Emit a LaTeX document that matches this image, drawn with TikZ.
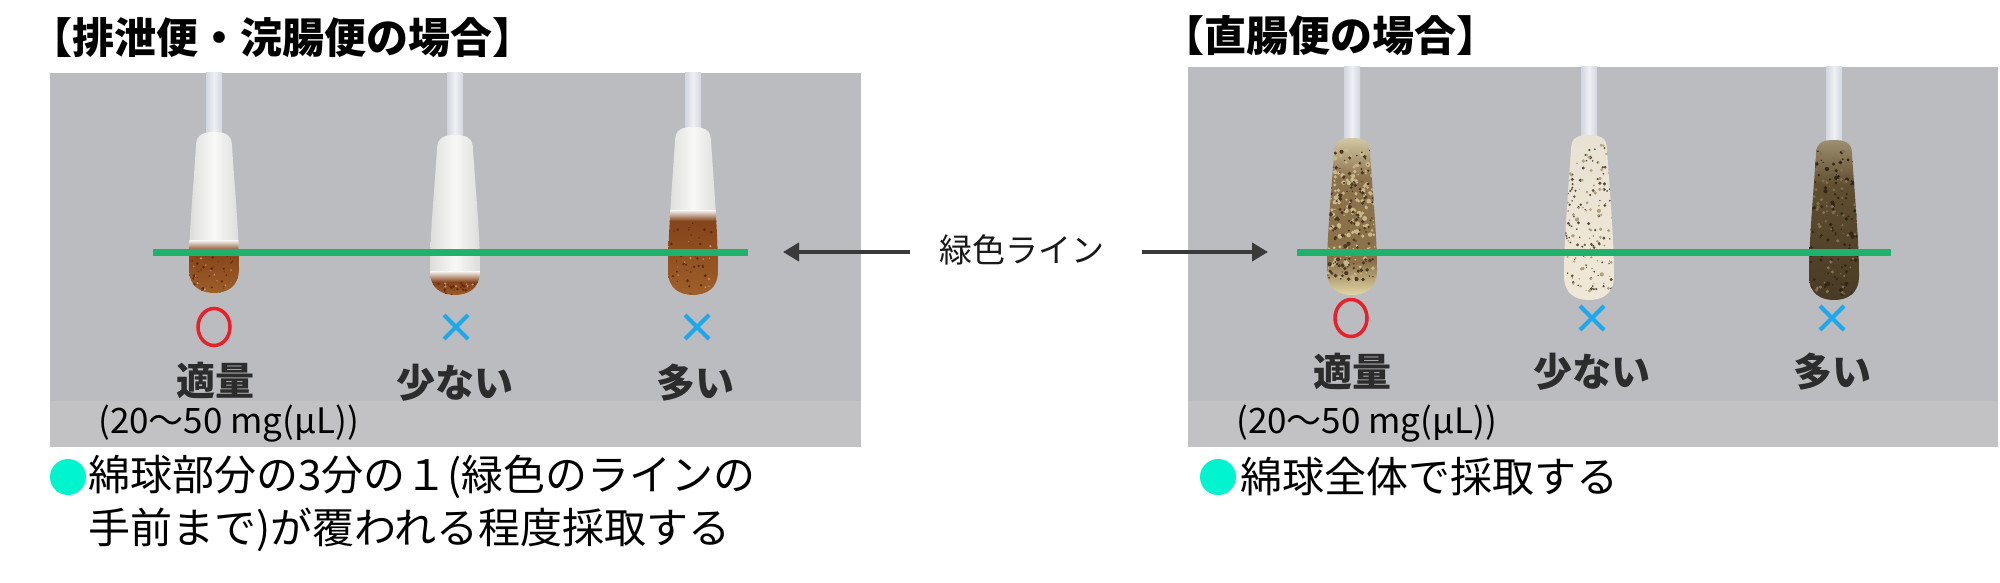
\documentclass[tikz,border=0pt]{standalone}
\usepackage{fontspec}
\newfontfamily\jp{Noto Sans CJK JP}
\usetikzlibrary{arrows.meta}
\definecolor{panel}{HTML}{BBBCC0}
\definecolor{band}{HTML}{C2C2C4}
\definecolor{gline}{HTML}{20B26C}
\definecolor{okred}{HTML}{E8202A}
\definecolor{ngblue}{HTML}{1EA8EC}
\definecolor{mint}{HTML}{00F5CF}
\definecolor{stickhi}{HTML}{EEF0F4}
\definecolor{stickdark}{HTML}{D2D6DE}
\definecolor{cotton}{HTML}{F8F8F6}
\definecolor{cottonedge}{HTML}{DCDCDA}
\definecolor{poo}{HTML}{85441A}
\definecolor{poolight}{HTML}{A0602A}
\definecolor{poodark}{HTML}{642A0E}
\definecolor{labelgray}{HTML}{2C2C2C}
\definecolor{arrowgray}{HTML}{3A3A3A}
% right-panel colours
\definecolor{raTop}{RGB}{214,204,170}
\definecolor{raMid}{RGB}{140,114,74}
\definecolor{raBot}{RGB}{232,222,172}
\definecolor{raLight}{RGB}{200,184,140}
\definecolor{raDark}{RGB}{74,56,32}
\definecolor{rbTop}{RGB}{232,226,212}
\definecolor{rbMid}{RGB}{216,204,176}
\definecolor{rbBot}{RGB}{240,232,214}
\definecolor{rbDark}{RGB}{90,76,54}
\definecolor{rbMed}{RGB}{176,160,124}
\definecolor{rcTop}{RGB}{160,146,116}
\definecolor{rcMid}{RGB}{96,78,48}
\definecolor{rcBot}{RGB}{72,58,36}
\definecolor{rcDark}{RGB}{50,38,22}
\definecolor{rcLight}{RGB}{130,112,80}
\tikzset{
  titletext/.style={font=\jp\bfseries\fontsize{42}{50}\selectfont, inner sep=0pt, anchor=west},
  lbl/.style={font=\jp\bfseries\fontsize{39}{46}\selectfont, text=labelgray, inner sep=0pt},
  body/.style={font=\jp\fontsize{42}{53}\selectfont, inner sep=0pt, anchor=west, align=left},
  amount/.style={font=\jp\fontsize{35}{40}\selectfont, inner sep=0pt, anchor=west},
  note/.style={font=\jp\fontsize{33}{40}\selectfont, inner sep=0pt, text=black!90},
  greenline/.style={line width=7pt, draw=gline},
  okmark/.style={draw=okred, line width=3.5pt},
  ngmark/.style={draw=ngblue, line width=4pt},
  pointer/.style={line width=4pt, draw=arrowgray, -{Triangle[length=16pt,width=18pt]}},
}
% head outline: cx, top, bottom
\newcommand\headpath[3]{({#1-18},{#2+14}) .. controls ({#1-18},{#2+2}) and ({#1-10},{#2}) .. ({#1},{#2}) .. controls ({#1+10},{#2}) and ({#1+18},{#2+2}) .. ({#1+18},{#2+14}) .. controls ({#1+21},{#2+60}) and ({#1+25},{#3-60}) .. ({#1+25},{#3-24}) .. controls ({#1+25},{#3-6}) and ({#1+13},{#3}) .. ({#1},{#3}) .. controls ({#1-13},{#3}) and ({#1-25},{#3-6}) .. ({#1-25},{#3-24}) .. controls ({#1-25},{#3-60}) and ({#1-21},{#2+60}) .. cycle}
% stick: cx, top, bottom
\newcommand\stickat[3]{\shade[left color=stickdark, right color=stickdark, middle color=stickhi] ({#1-8},{#2}) rectangle ({#1+8},{#3+4});}
% speckles: cx, y0, y1, colour, count, size, half width
\newcommand\speckles[7]{%
  \foreach \k in {1,...,#5}{%
    \pgfmathsetmacro\sx{#1+(rnd-0.5)*2*#7}%
    \pgfmathsetmacro\sy{#2+rnd*(#3-#2)}%
    \pgfmathsetmacro\sr{#6*(0.4+rnd)}%
    \fill[#4] (\sx,\sy) circle[radius=\sr];
  }}
% left-panel swab head: cx, top, bottom, start of stool
\newcommand\lefthead[4]{%
  \begin{scope}
    \clip \headpath{#1}{#2}{#3};
    \shade[left color=cottonedge, right color=cottonedge, middle color=cotton] ({#1-26},{#2-2}) rectangle ({#1+26},{#3+2});
    \shade[top color=cotton, bottom color=poo] ({#1-30},{#4-8}) rectangle ({#1+30},{#4+3});
    \shade[top color=poo, bottom color=poolight] ({#1-30},{#4+3}) rectangle ({#1+30},{#3+2});
    \speckles{#1}{#4+4}{#3-2}{poodark}{40}{1.2}{22}
    \speckles{#1}{#4+4}{#3-2}{poolight!70!white}{15}{1.0}{22}
  \end{scope}}
\begin{document}
\begin{tikzpicture}[x=1pt,y=-1pt]
\pgfmathsetseed{7}
\useasboundingbox (0,0) rectangle (2000,583);
\fill[white] (0,0) rectangle (2000,583);

% ---------- titles ----------
\node[titletext] (t1) at (30,38) {【排泄便・浣腸便の場合】};
\node[titletext] (t2) at (1162,36) {【直腸便の場合】};

% ---------- panels ----------
\fill[panel] (50,73) rectangle (861,447);
\fill[band] (50,401) rectangle (861,447);
\fill[panel] (1188,67) rectangle (1998,447);
\fill[band] (1188,401) rectangle (1998,447);

% ---------- left swabs ----------
\stickat{214}{73}{132}
\stickat{455}{73}{135}
\stickat{693}{73}{127}
\lefthead{214}{132}{293}{248}
\lefthead{455}{135}{295}{279}
\lefthead{693}{127}{295}{218}

% ---------- right swabs ----------
\stickat{1352}{67}{138}
\stickat{1589}{67}{135}
\stickat{1834}{67}{140}
% amount right
\begin{scope}
  \clip \headpath{1352}{138}{295};
  \shade[top color=raTop, bottom color=raMid] (1320,136) rectangle (1385,178);
  \fill[raMid] (1320,178) rectangle (1385,262);
  \shade[top color=raMid, bottom color=raBot] (1320,262) rectangle (1385,297);
  \speckles{1352}{150}{285}{raLight}{160}{1.8}{24}
  \speckles{1352}{150}{280}{raDark}{150}{1.5}{24}
\end{scope}
% too little right
\begin{scope}
  \clip \headpath{1589}{135}{300};
  \shade[top color=rbTop, middle color=rbMid, bottom color=rbBot] (1560,133) rectangle (1620,302);
  \speckles{1589}{145}{292}{rbDark}{110}{1.3}{24}
  \speckles{1589}{145}{292}{rbMed}{70}{1.5}{24}
\end{scope}
% too much right
\begin{scope}
  \clip \headpath{1834}{140}{300};
  \shade[top color=rcTop, bottom color=rcMid] (1800,138) rectangle (1870,185);
  \shade[top color=rcMid, bottom color=rcBot] (1800,185) rectangle (1870,302);
  \speckles{1834}{150}{295}{rcDark}{110}{1.6}{24}
  \speckles{1834}{150}{295}{rcLight}{70}{1.4}{24}
\end{scope}

% ---------- green lines ----------
\draw[greenline] (153,252) -- (748,252);
\draw[greenline] (1297,252) -- (1891,252);

% ---------- marks ----------
\draw[okmark] (214,327) ellipse [x radius=16, y radius=18.5];
\draw[ngmark] (444,315) -- (468,339) (468,315) -- (444,339);
\draw[ngmark] (685,315) -- (709,339) (709,315) -- (685,339);
\draw[okmark] (1351,318) ellipse [x radius=16, y radius=18.5];
\draw[ngmark] (1580,306) -- (1604,330) (1604,306) -- (1580,330);
\draw[ngmark] (1820,306) -- (1844,330) (1844,306) -- (1820,330);

% ---------- labels ----------
\node[lbl] (l1) at (215,381) {適量};
\node[lbl] (l2) at (455,383) {少ない};
\node[lbl] (l3) at (695,383) {多い};
\node[lbl] (r1) at (1352,372) {適量};
\node[lbl] (r2) at (1592,372) {少ない};
\node[lbl] (r3) at (1832,372) {多い};

\node[amount] (a1) at (98,424) {(20～50 mg(μL))};
\node[amount] (a2) at (1236,424) {(20～50 mg(μL))};

% ---------- green line pointer ----------
\node[note] (gl) at (1022,250) {緑色ライン};
\coordinate (gla) at (910,252);
\coordinate (glt) at (783,252);
\coordinate (grb) at (1142,252);
\coordinate (grt) at (1268,252);
\draw[pointer] (gla) -- (glt);
\draw[pointer] (grb) -- (grt);

% ---------- notes ----------
\fill[mint] (68,477) circle[radius=18];
\node[body] (n1) at (88,503) {綿球部分の3分の１(緑色のラインの\\手前まで)が覆われる程度採取する};
\fill[mint] (1218,477) circle[radius=18];
\node[body] (n2) at (1240,477) {綿球全体で採取する};
\end{tikzpicture}
\end{document}
